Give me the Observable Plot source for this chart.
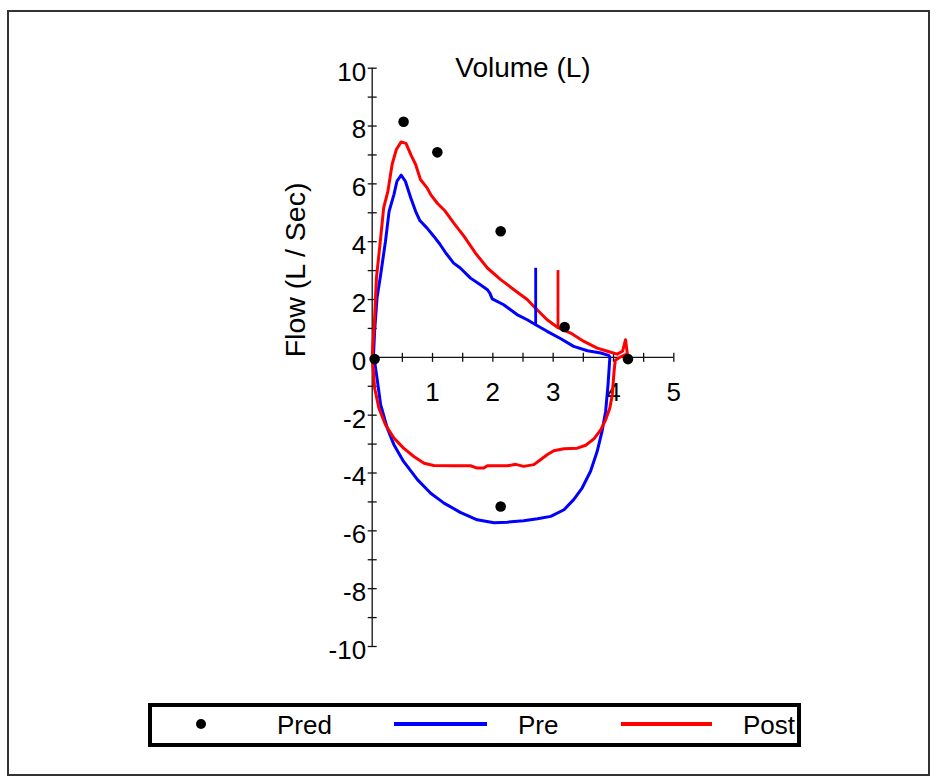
<!DOCTYPE html>
<html>
<head>
<meta charset="utf-8">
<script src="https://cdn.jsdelivr.net/npm/d3@7"></script>
<script src="https://cdn.jsdelivr.net/npm/@observablehq/plot@0.6"></script>
<style>
  body { margin: 0; background: #fff; font-family: "Liberation Sans", Arial, sans-serif; }
  #wrap { position: relative; width: 937px; height: 776px; overflow: hidden; background: #fff; }
  #frame { position: absolute; left: 7px; top: 10px; width: 919px; height: 762px; border: 2px solid #333; }
  #chart { position: absolute; left: 0; top: 0; }
  #legend { position: absolute; left: 148px; top: 703px; width: 645px; height: 36px; border: 4px solid #000; overflow: hidden; background: #fff; }
  #legend .t { position: absolute; top: 0; line-height: 36px; font-size: 26px; color: #000; white-space: nowrap; }
  #legend .sw { position: absolute; top: 15px; height: 4px; }
  #legend .dot { position: absolute; left: 44px; top: 12px; width: 10px; height: 10px; border-radius: 50%; background: #000; }
</style>
</head>
<body>
<div id="wrap">
  <div id="frame"></div>
  <div id="chart"></div>
  <div id="legend"></div>
</div>
<script>
// ---------- data ----------
const seriesNames = ["Pred", "Pre", "Post"];
const seriesColors = ["#000000", "#0000ff", "#ff0000"];

const predVolume = [0.04, 0.52, 1.08, 2.13, 3.19, 4.24, 2.13];
const predFlow   = [-0.06, 8.15, 7.09, 4.36, 1.05, -0.06, -5.16];

const preVolume = [0.02, 0.04, 0.08, 0.14, 0.22, 0.28, 0.36, 0.41, 0.48, 0.55, 0.64, 0.72, 0.79, 0.91, 1.02, 1.12, 1.22, 1.35, 1.46, 1.63, 1.80, 1.91, 1.95, 1.99, 2.18, 2.40, 2.57, 2.71, 2.90, 3.12, 3.34, 3.57, 3.79, 3.92, 3.94,
                   3.91, 3.87, 3.81, 3.73, 3.62, 3.48, 3.34, 3.18, 2.96, 2.74, 2.51, 2.24, 2.02, 1.74, 1.46, 1.19, 0.97, 0.75, 0.52, 0.36, 0.25, 0.14, 0.08, 0.03];
const preFlow   = [0.00, 0.90, 2.05, 2.86, 4.01, 5.05, 5.63, 6.09, 6.30, 6.09, 5.51, 5.05, 4.73, 4.47, 4.19, 3.92, 3.61, 3.26, 3.09, 2.74, 2.50, 2.34, 2.22, 2.02, 1.82, 1.48, 1.30, 1.13, 0.90, 0.65, 0.38, 0.23, 0.15, 0.07, 0.00,
                   -0.94, -1.87, -2.56, -3.25, -3.94, -4.52, -4.92, -5.27, -5.50, -5.58, -5.65, -5.70, -5.72, -5.62, -5.36, -5.04, -4.70, -4.23, -3.60, -3.02, -2.45, -1.64, -0.72, 0.00];

const postVolume = [0.00, 0.04, 0.07, 0.14, 0.19, 0.26, 0.33, 0.40, 0.48, 0.56, 0.64, 0.72, 0.80, 0.91, 0.97, 1.08, 1.20, 1.35, 1.52, 1.71, 1.91, 2.13, 2.35, 2.57, 2.68, 2.90, 3.07, 3.29, 3.51, 3.73, 3.90, 4.06, 4.15, 4.20, 4.23,
                    4.12, 4.03, 4.01, 3.98, 3.94, 3.87, 3.79, 3.68, 3.54, 3.40, 3.18, 3.01, 2.90, 2.79, 2.68, 2.51, 2.38, 2.24, 2.13, 1.91, 1.85, 1.74, 1.63, 1.35, 1.02, 0.86, 0.69, 0.52, 0.36, 0.22, 0.11, 0.04, 0.02, 0.00];
const postFlow   = [0.00, 1.36, 2.74, 4.13, 5.17, 5.74, 6.67, 7.19, 7.45, 7.40, 7.01, 6.67, 6.15, 5.86, 5.63, 5.33, 5.08, 4.65, 4.19, 3.61, 3.09, 2.69, 2.34, 2.00, 1.76, 1.30, 1.04, 0.84, 0.55, 0.32, 0.21, 0.11, 0.21, 0.61, 0.12,
                    0.02, -0.10, -0.48, -1.29, -1.75, -2.16, -2.50, -2.81, -3.04, -3.14, -3.16, -3.23, -3.37, -3.54, -3.71, -3.77, -3.70, -3.75, -3.75, -3.75, -3.83, -3.83, -3.75, -3.75, -3.74, -3.66, -3.43, -3.14, -2.79, -2.33, -1.75, -1.06, -0.48, 0.00];

// vertical markers on the expiratory curves
const markerSeries    = ["Pre", "Post"];
const markerVolume    = [2.71, 3.08];
const markerFlowLow   = [1.13, 1.02];
const markerFlowHigh  = [3.08, 3.00];

const xTickValues = [0.5, 1, 1.5, 2, 2.5, 3, 3.5, 4, 4.5, 5];
const xTickLabels = [1, 2, 3, 4, 5];
const yTickValues = [-10, -9, -8, -7, -6, -5, -4, -3, -2, -1, 1, 2, 3, 4, 5, 6, 7, 8, 9, 10];
const yTickLabels = [-10, -8, -6, -4, -2, 0, 2, 4, 6, 8, 10];
const xDomain = [0, 5];
const yDomain = [-10, 10];
const xTitle = "Volume (L)";
const yTitle = "Flow (L / Sec)";

// ---------- tables ----------
const pred = predVolume.map((v, i) => ({v, f: predFlow[i]}));
const pre = preVolume.map((v, i) => ({v, f: preFlow[i]}));
const post = postVolume.map((v, i) => ({v, f: postFlow[i]}));
const markers = markerSeries.map((s, i) => ({s, v: markerVolume[i], lo: markerFlowLow[i], hi: markerFlowHigh[i]}));
const colorOf = s => seriesColors[seriesNames.indexOf(s)];

// tick symbols
const vTick = {draw(ctx, size) { const h = Math.sqrt(size / Math.PI); ctx.moveTo(0, -h); ctx.lineTo(0, h); }};
const hTick = {draw(ctx, size) { const h = Math.sqrt(size / Math.PI); ctx.moveTo(-h, 0); ctx.lineTo(h, 0); }};

const font = '"Liberation Sans", Arial, sans-serif';
const axisColor = "#111";

const chart = Plot.plot({
  width: 937,
  height: 700,
  marginLeft: 371.7,
  marginRight: 263.7,
  marginTop: 67.7,
  marginBottom: 54,
  x: {domain: xDomain, axis: null},
  y: {domain: yDomain, axis: null},
  style: {fontFamily: font, background: "transparent", overflow: "visible"},
  marks: [
    Plot.ruleY([0], {x1: xDomain[0], x2: xDomain[1], stroke: axisColor, strokeWidth: 1.3}),
    Plot.ruleX([0], {y1: yDomain[0], y2: yDomain[1], stroke: axisColor, strokeWidth: 1.3}),
    Plot.dot(xTickValues, {x: d => d, y: 0, symbol: vTick, r: 4.5, stroke: axisColor, fill: "none", strokeWidth: 1.3}),
    Plot.dot(yTickValues, {x: 0, y: d => d, symbol: hTick, r: 4.5, stroke: axisColor, fill: "none", strokeWidth: 1.3}),
    Plot.text(xTickLabels, {x: d => d, y: 0, text: d => String(d), dy: 35, fontSize: 26, fill: "#000"}),
    Plot.text(yTickLabels, {x: 0, y: d => d, text: d => String(d), dx: -6, dy: 4, textAnchor: "end", fontSize: 26, fill: "#000"}),
    Plot.text([xTitle], {text: d => d, frameAnchor: "top", lineAnchor: "middle", dy: 0, fontSize: 28, fill: "#000"}),
    Plot.text([yTitle], {text: d => d, frameAnchor: "left", rotate: -90, dx: -76, fontSize: 28.5, fill: "#000"}),
    Plot.line(pre, {x: "v", y: "f", stroke: colorOf("Pre"), strokeWidth: 3, strokeLinejoin: "round"}),
    Plot.line(post, {x: "v", y: "f", stroke: colorOf("Post"), strokeWidth: 3, strokeLinejoin: "round"}),
    Plot.ruleX(markers, {x: "v", y1: "lo", y2: "hi", stroke: d => colorOf(d.s), strokeWidth: 2.8}),
    Plot.dot(pred, {x: "v", y: "f", r: 5.3, fill: colorOf("Pred"), stroke: "none"})
  ]
});
document.getElementById("chart").appendChild(chart);

// ---------- legend ----------
const legend = d3.select("#legend");
legend.append("div").attr("class", "dot");
legend.append("span").attr("class", "t").style("left", "125px").text(seriesNames[0]);
legend.append("div").attr("class", "sw").style("left", "242px").style("width", "93px").style("background", colorOf("Pre"));
legend.append("span").attr("class", "t").style("left", "366px").text(seriesNames[1]);
legend.append("div").attr("class", "sw").style("left", "469px").style("width", "91px").style("background", colorOf("Post"));
legend.append("span").attr("class", "t").style("left", "591px").text(seriesNames[2]);
</script>
</body>
</html>
